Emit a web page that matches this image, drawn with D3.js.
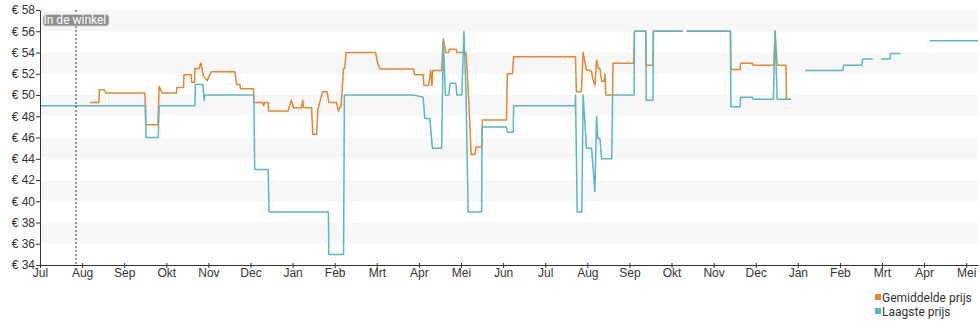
<!DOCTYPE html>
<html>
<head>
<meta charset="utf-8">
<script src="https://cdn.jsdelivr.net/npm/d3@7"></script>
<style>
  html, body { margin: 0; padding: 0; background: #fff; }
  svg { display: block; font-family: Roboto, "Noto Sans", sans-serif; }
  .axis text { fill: #333; font-size: 12px; }
  .axis path, .axis line { stroke: #333; }
</style>
</head>
<body>
<svg id="chart" width="980" height="325"></svg>
<script>
// Month labels, one per month from July onward (23 months)
const monthLabels = ["Jul","Aug","Sep","Okt","Nov","Dec","Jan","Feb","Mrt","Apr","Mei","Jun",
                     "Jul","Aug","Sep","Okt","Nov","Dec","Jan","Feb","Mrt","Apr","Mei"];
const priceTicks = [34,36,38,40,42,44,46,48,50,52,54,56,58];

// Positions are in months since the first July; null marks a gap in the history
const lowestT = [0,2.51,2.52,2.81,2.83,3.68,3.69,3.87,3.90,3.92,5.08,5.10,5.42,5.44,6.85,6.86,7.21,7.23,
  8.86,9.10,9.14,9.26,9.32,9.54,9.58,9.63,9.71,9.74,9.88,9.90,10.02,10.07,10.12,10.17,10.49,10.50,
  11.08,11.10,11.24,11.25,12.71,12.72,12.76,12.87,12.90,12.98,13.10,13.14,13.18,13.22,13.25,13.30,
  13.34,13.58,13.60,14.11,14.12,14.39,14.40,14.56,14.57,15.27,15.31,15.36,16.40,16.41,16.63,16.64,
  16.92,16.94,17.42,17.46,17.51,17.83,18.0,18.17,19.07,19.09,19.52,19.54,19.78,19.88,19.98,20.19,
  20.20,20.44,20.8,21.14,22.28];
const lowestPrice = [49,49,46,46,49,49,51,51,49.5,50,50,43,43,39,39,35,35,50,
  50,49.8,47.8,47.8,45,45,55,50,50,51.1,51.1,50,50,56,50,39,39,47,
  47,46.5,46.5,49,49,50,39,39,50,45,45,43,40.9,48,45.9,45.9,
  44,44,50,50,56,56,49.5,49.5,56,56,null,56,56,48.9,48.9,49.8,
  49.8,49.6,49.6,56,49.6,49.6,null,52.3,52.3,52.8,52.8,53.4,53.4,null,53.4,53.4,
  53.9,53.9,null,55.1,55.1];

const averageT = [1.19,1.40,1.41,1.52,1.57,2.49,2.51,2.80,2.83,2.90,3.24,3.25,3.41,3.42,3.59,3.60,3.67,
  3.68,3.78,3.82,3.88,3.97,4.07,4.63,4.67,4.75,4.76,5.07,5.08,5.29,5.31,5.34,5.42,5.43,5.89,5.97,
  6.02,6.21,6.24,6.26,6.45,6.48,6.57,6.60,6.71,6.82,6.86,7.04,7.09,7.13,7.15,7.21,7.24,7.27,7.97,
  8.02,8.08,8.87,8.90,9.10,9.12,9.23,9.28,9.31,9.33,9.54,9.58,9.64,9.71,9.72,9.89,9.90,10.12,10.19,
  10.24,10.33,10.36,10.49,10.51,11.08,11.10,11.22,11.25,12.72,12.74,12.86,12.90,12.98,13.05,13.10,
  13.13,13.18,13.22,13.26,13.30,13.34,13.40,13.42,13.44,13.60,13.61,14.10,14.12,14.39,14.40,14.56,
  14.57,15.27,15.31,15.36,16.40,16.41,16.63,16.64,16.92,16.94,17.43,17.46,17.51,17.72,17.73,17.83];
const averagePrice = [49.3,49.3,50.5,50.5,50.2,50.2,47.2,47.2,50.8,50.2,50.2,50.7,50.7,51.9,51.9,51.2,51.2,
  52.5,52.5,53.0,51.8,51.35,52.2,52.2,51.0,51.0,50.6,50.6,49.3,49.3,49.0,49.3,49.3,48.5,48.5,49.5,
  48.8,48.8,49.5,48.8,48.8,46.3,46.3,48.6,50.3,50.3,49.3,49.3,48.5,48.9,48.9,52.5,52.5,54.0,54.0,
  53.0,52.45,52.45,51.9,51.9,50.9,50.9,52.3,50.9,52.3,52.3,55.3,54.0,54.0,54.3,54.3,54.0,54.0,49.0,
  44.4,44.4,45.1,45.1,47.65,47.65,52.0,52.0,53.6,53.6,50.3,50.3,54.0,52.35,52.35,52.2,
  51.5,50.9,53.3,52.5,52.5,51.3,51.3,52.0,50.0,50.0,53.0,53.0,56,56,52.8,52.8,
  56,56,null,56,56,52.4,52.4,53.0,53.0,52.8,52.8,56,52.8,52.8,49.6,49.6];

// Date the product became available in stores (months since first July)
const inStoreT = 0.855;

const seriesNames = ["Gemiddelde prijs", "Laagste prijs"];
const seriesColors = ["#e8852f", "#5ab8c0"];

const svg = d3.select("#chart");
const plot = { left: 40, right: 978, top: 10, bottom: 265 };

const x = d3.scaleLinear().domain([0, 22.28]).range([plot.left, plot.right]);
const y = d3.scaleLinear().domain([34, 58]).range([plot.bottom, plot.top]);

// Alternating horizontal bands
const bands = svg.append("g");
priceTicks.slice(0, -1).forEach((p, i) => {
  if (i % 2 === 1) {
    bands.append("rect")
      .attr("x", plot.left).attr("width", plot.right - plot.left)
      .attr("y", y(p + 2)).attr("height", y(p) - y(p + 2))
      .attr("fill", "#f7f7f7");
  }
});

// Price lines
const toPoints = (ts, vs) => ts.map((t, i) => [t, vs[i]]);
const line = d3.line()
  .defined(d => d[1] !== null)
  .x(d => x(d[0]))
  .y(d => y(d[1]));

svg.append("path")
  .datum(toPoints(averageT, averagePrice))
  .attr("d", line)
  .attr("fill", "none")
  .attr("stroke", seriesColors[0])
  .attr("stroke-width", 1.5)
  .attr("stroke-linejoin", "round");

svg.append("path")
  .datum(toPoints(lowestT, lowestPrice))
  .attr("d", line)
  .attr("fill", "none")
  .attr("stroke", seriesColors[1])
  .attr("stroke-width", 1.5)
  .attr("stroke-linejoin", "round");

// In-store marker
svg.append("line")
  .attr("x1", x(inStoreT)).attr("x2", x(inStoreT))
  .attr("y1", plot.top).attr("y2", plot.bottom)
  .attr("stroke", "#333").attr("stroke-width", 1)
  .attr("stroke-dasharray", "2,2");

const tag = svg.append("g");
tag.append("rect")
  .attr("x", plot.left + 3).attr("y", 14.5)
  .attr("width", 66).attr("height", 11.5)
  .attr("rx", 3).attr("ry", 3)
  .attr("fill", "#8e8e8e")
  .attr("stroke", "#d8d8d8").attr("stroke-width", 0.8);
tag.append("text")
  .attr("x", plot.left + 3.5).attr("y", 24.2)
  .attr("fill", "#fff")
  .style("font-size", "12px")
  .text("In de winkel");

// Axes
svg.append("g")
  .attr("class", "axis")
  .attr("transform", `translate(${plot.left},0)`)
  .call(d3.axisLeft(y).tickValues(priceTicks).tickFormat(d => "€ " + d)
    .tickSizeInner(4).tickSizeOuter(0).tickPadding(1));

const xAxis = svg.append("g")
  .attr("class", "axis")
  .attr("transform", `translate(0,${plot.bottom})`)
  .call(d3.axisBottom(x).tickValues(d3.range(monthLabels.length))
    .tickFormat(i => monthLabels[i]).tickSizeInner(3).tickSizeOuter(0).tickPadding(0));
xAxis.selectAll(".tick line").attr("y1", -2);

// Legend
const legend = svg.append("g").attr("transform", "translate(875,293)");
seriesNames.forEach((name, i) => {
  const row = legend.append("g").attr("transform", `translate(0,${i * 14})`);
  row.append("rect").attr("x", 0).attr("y", 1).attr("width", 6).attr("height", 6)
    .attr("fill", seriesColors[i]);
  row.append("text").attr("x", 7).attr("y", 8.5)
    .attr("fill", "#333").style("font-size", "12px").text(name);
});
</script>
</body>
</html>
